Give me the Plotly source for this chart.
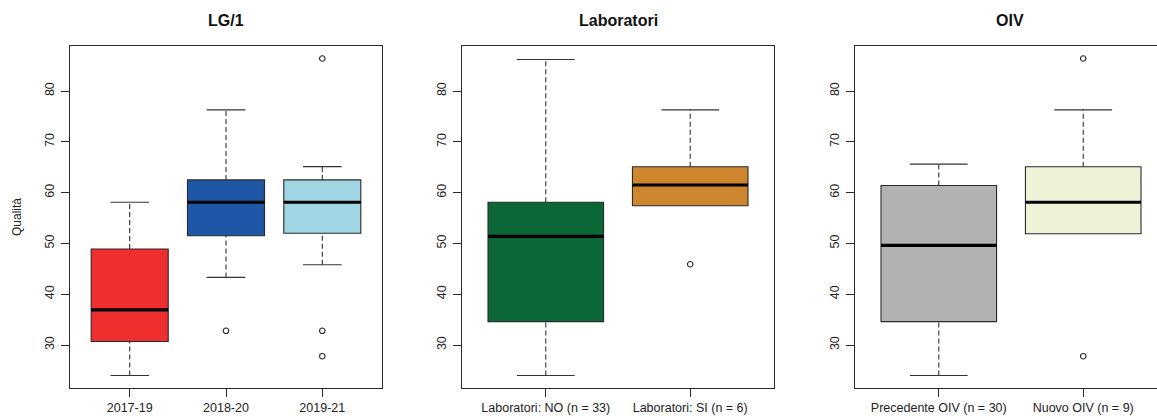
import plotly.graph_objects as go

# ---------------- data ----------------
panel_titles = ["LG/1", "Laboratori", "OIV"]
y_title = "Qualità"
y_ticks = [30, 40, 50, 60, 70, 80]

# Panel 1 : LG/1
p1_labels = ["2017-19", "2018-20", "2019-21"]
p1_lower = [24.0, 43.3, 45.8]
p1_q1 = [30.7, 51.5, 52.0]
p1_median = [36.9, 58.1, 58.1]
p1_q3 = [48.9, 62.5, 62.5]
p1_upper = [58.1, 76.3, 65.1]
p1_outliers = [[], [32.8], [86.4, 32.8, 27.8]]
p1_colors = ["#EE2E2F", "#1D57A5", "#A0D5E3"]

# Panel 2 : Laboratori
p2_labels = ["Laboratori: NO (n = 33)", "Laboratori: SI (n = 6)"]
p2_lower = [24.0, 57.4]
p2_q1 = [34.6, 57.4]
p2_median = [51.4, 61.5]
p2_q3 = [58.1, 65.1]
p2_upper = [86.2, 76.3]
p2_outliers = [[], [45.9]]
p2_colors = ["#0B6836", "#CD852E"]

# Panel 3 : OIV
p3_labels = ["Precedente OIV (n = 30)", "Nuovo OIV (n = 9)"]
p3_lower = [24.0, 51.9]
p3_q1 = [34.6, 51.9]
p3_median = [49.6, 58.1]
p3_q3 = [61.4, 65.1]
p3_upper = [65.6, 76.3]
p3_outliers = [[], [86.4, 27.8]]
p3_colors = ["#B1B3B3", "#EEF3D8"]

panels = [
    (p1_labels, p1_lower, p1_q1, p1_median, p1_q3, p1_upper, p1_outliers, p1_colors),
    (p2_labels, p2_lower, p2_q1, p2_median, p2_q3, p2_upper, p2_outliers, p2_colors),
    (p3_labels, p3_lower, p3_q1, p3_median, p3_q3, p3_upper, p3_outliers, p3_colors),
]

# ---------------- layout geometry ----------------
W, H = 1157, 416
BOX_W = 0.8
CAP_HALF = 0.2
FRAME = "#2a2a2a"
FONT = "Liberation Sans, Arial, sans-serif"

# pixel extents of each panel (left, right); third panel is cut by the page edge
px_left = [70, 462, 855]
px_right = [382, 774, 1157]
y_top_px, y_bot_px = 46, 388
y_range = [21.54, 88.86]

fig = go.Figure()

for i, (labels, lo, q1, med, q3, up, outs, cols) in enumerate(panels):
    n = len(labels)
    pos = list(range(1, n + 1))
    xa = "x" if i == 0 else f"x{i+1}"
    ya = "y" if i == 0 else f"y{i+1}"

    # dashed whiskers
    wx, wy = [], []
    for p, a, b, c, d in zip(pos, lo, q1, q3, up):
        if d > c:
            wx += [p, p, None]
            wy += [c, d, None]
        if a < b:
            wx += [p, p, None]
            wy += [a, b, None]
    fig.add_trace(go.Scatter(x=wx, y=wy, mode="lines", xaxis=xa, yaxis=ya,
                             line=dict(color="#333333", width=1.1, dash="5px,3px"),
                             hoverinfo="skip", showlegend=False))
    # boxes
    for p, b, m, c, col in zip(pos, q1, med, q3, cols):
        fig.add_trace(go.Box(x=[p], q1=[b], median=[m], q3=[c],
                             lowerfence=[b], upperfence=[c],
                             width=BOX_W, whiskerwidth=0, fillcolor=col,
                             line=dict(color=FRAME, width=1.1), boxpoints=False,
                             xaxis=xa, yaxis=ya, showlegend=False, hoverinfo="skip"))
    # thick medians
    mx, my = [], []
    for p, m in zip(pos, med):
        mx += [p - BOX_W / 2, p + BOX_W / 2, None]
        my += [m, m, None]
    fig.add_trace(go.Scatter(x=mx, y=my, mode="lines", xaxis=xa, yaxis=ya,
                             line=dict(color="black", width=3.2),
                             hoverinfo="skip", showlegend=False))
    # whisker caps
    cx, cy = [], []
    for p, a, b, c, d in zip(pos, lo, q1, q3, up):
        if d > c:
            cx += [p - CAP_HALF, p + CAP_HALF, None]
            cy += [d, d, None]
        if a < b:
            cx += [p - CAP_HALF, p + CAP_HALF, None]
            cy += [a, a, None]
    fig.add_trace(go.Scatter(x=cx, y=cy, mode="lines", xaxis=xa, yaxis=ya,
                             line=dict(color="#333333", width=1.2),
                             hoverinfo="skip", showlegend=False))
    # outliers
    ox, oy = [], []
    for p, o in zip(pos, outs):
        ox += [p] * len(o)
        oy += o
    fig.add_trace(go.Scatter(x=ox, y=oy, mode="markers", xaxis=xa, yaxis=ya,
                             marker=dict(symbol="circle-open", size=5.5, color="#222222",
                                         line=dict(width=1.1)),
                             hoverinfo="skip", showlegend=False))

    # axes
    xr0 = 0.5 - 0.04 * n
    scale = (px_right[i] - px_left[i]) / (n + 0.08 * n) if i < 2 else (774 - 462) / (2 + 0.16)
    xr1 = xr0 + (px_right[i] - px_left[i]) / scale
    xkey = "xaxis" if i == 0 else f"xaxis{i+1}"
    ykey = "yaxis" if i == 0 else f"yaxis{i+1}"
    fig.update_layout({
        xkey: dict(domain=[px_left[i] / W, px_right[i] / W], range=[xr0, xr1],
                   anchor=ya, tickmode="array", tickvals=pos, ticktext=labels,
                   showgrid=False, zeroline=False, showline=True, mirror=True,
                   linecolor=FRAME, linewidth=1.2, ticks="outside", ticklen=8,
                   tickcolor=FRAME, tickwidth=1,
                   tickfont=dict(family=FONT, size=12.5, color="#222222"),
                   fixedrange=True),
        ykey: dict(domain=[(H - y_bot_px) / H, (H - y_top_px) / H], range=y_range,
                   anchor=xa, tickmode="array", tickvals=y_ticks,
                   ticktext=[str(t) for t in y_ticks], tickangle=-90,
                   showgrid=False, zeroline=False, showline=True,
                   mirror=(i < 2), linecolor=FRAME, linewidth=1.2,
                   ticks="outside", ticklen=8, tickcolor=FRAME, tickwidth=1,
                   ticklabelstandoff=2,
                   tickfont=dict(family=FONT, size=12.5, color="#222222"),
                   fixedrange=True),
    })

    # panel title centred on the full (unclipped) panel
    centre_px = [226, 618, 1010][i]
    fig.add_annotation(text=f"<b>{panel_titles[i]}</b>", x=centre_px / W, y=(H - 20) / H,
                       xref="paper", yref="paper", showarrow=False,
                       font=dict(family=FONT, size=16, color="#111111"),
                       xanchor="center", yanchor="middle")

fig.add_annotation(text=y_title, x=17 / W, y=(H - 217) / H, xref="paper", yref="paper",
                   showarrow=False, textangle=-90,
                   font=dict(family=FONT, size=12, color="#222222"),
                   xanchor="center", yanchor="middle")

fig.update_layout(width=W, height=H, margin=dict(l=0, r=0, t=0, b=0),
                  paper_bgcolor="white", plot_bgcolor="white", showlegend=False)

fig.write_html("out.html", config={"displayModeBar": False},
               post_script="document.body.style.margin='0';document.body.style.overflow='hidden';")
